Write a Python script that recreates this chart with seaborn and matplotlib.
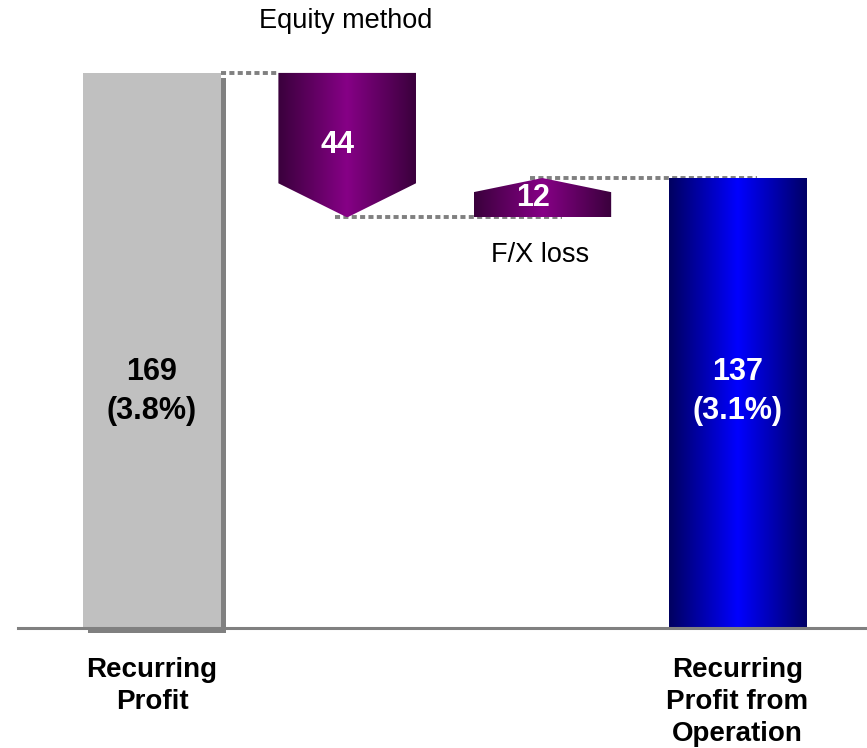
"""
Waterfall: Recurring Profit -> Recurring Profit from Operation
"""

import numpy as np
import pandas as pd
import matplotlib
matplotlib.use("Agg")
import matplotlib.pyplot as plt
import matplotlib.patheffects as pe
from matplotlib.colors import LinearSegmentedColormap
from matplotlib.patches import Polygon
import seaborn as sns

# -----------------------------
# Data
# -----------------------------
steps = ["Recurring Profit", "Equity method", "F/X loss", "Recurring Profit from Operation"]
values = [169, -44, 12, 137]
kinds = ["total", "delta", "delta", "total"]
value_labels = ["169\n(3.8%)", "44", "12", "137\n(3.1%)"]
tick_labels = ["Recurring\nProfit", "", "", "Recurring\nProfit from\nOperation"]
step_captions = ["", "Equity method", "F/X loss", ""]

# -----------------------------
# Styling
# -----------------------------
BAR_W = 0.705
GREY = "#c0c0c0"
SHADOW = "#808080"
LINE = "#808080"
blue_cmap = LinearSegmentedColormap.from_list("blu", ["#000060", "#0000ff", "#000066"])
purple_cmap = LinearSegmentedColormap.from_list("pur", ["#3a003c", "#860086", "#3a003c"])
tip_heights = [0, 10.4, 4.3, 0]          # arrow tip size, data units
connector_offsets = [(BAR_W / 2, -BAR_W / 2), (-0.065, 0.10), (-0.065, 0.10)]

sns.set_theme(style="white")
plt.rcParams["font.family"] = ["Liberation Sans", "DejaVu Sans"]


def gradient_fill(ax, patch, x0, x1, y0, y1, cmap):
    grad = np.linspace(0, 1, 256).reshape(1, -1)
    im = ax.imshow(grad, cmap=cmap, extent=[x0, x1, y0, y1], aspect="auto",
                   origin="lower", interpolation="bicubic", zorder=2)
    im.set_clip_path(patch)
    return im


# -----------------------------
# Build table
# -----------------------------
levels = []
run = 0
for v, k in zip(values, kinds):
    if k == "total":
        run = v
        levels.append((0, v))
    else:
        levels.append((run, run + v))
        run += v

df = pd.DataFrame({
    "step": steps,
    "bar_height": [v if k == "total" else 0 for v, k in zip(values, kinds)],
})

fig = plt.figure(figsize=(8.67, 7.48), dpi=100)
ax = fig.add_axes([18 / 867, 120 / 748, 847 / 867, 628 / 748])

sns.barplot(data=df, x="step", y="bar_height", order=steps, width=BAR_W,
            color=GREY, saturation=1, ax=ax)

bars = ax.patches[:len(steps)]

# first total: flat grey with drop shadow
bars[0].set_facecolor(GREY)
bars[0].set_edgecolor("none")
bars[0].set_clip_on(False)
bars[0].set_path_effects([
    pe.SimplePatchShadow(offset=(3.6, -3.6), shadow_rgbFace=SHADOW, alpha=1.0),
    pe.Normal(),
])

# last total: blue gradient
last = bars[-1]
last.set_facecolor("none")
last.set_edgecolor("none")
gradient_fill(ax, last, last.get_x(), last.get_x() + last.get_width(),
              0, last.get_height(), blue_cmap)

# deltas: arrow-shaped pentagons
for i, (k, (a, b)) in enumerate(zip(kinds, levels)):
    if k != "delta":
        continue
    x0, x1 = i - BAR_W / 2, i + BAR_W / 2
    lo, hi = min(a, b), max(a, b)
    t = tip_heights[i]
    if b < a:   # pointing down
        pts = [(x0, hi), (x1, hi), (x1, lo + t), (i, lo), (x0, lo + t)]
    else:       # pointing up
        pts = [(x0, lo), (x1, lo), (x1, hi - t), (i, hi), (x0, hi - t)]
    poly = Polygon(pts, closed=True, facecolor="none", edgecolor="none", zorder=2)
    ax.add_patch(poly)
    gradient_fill(ax, poly, x0, x1, lo, hi, purple_cmap)

    # caption
    if b < a:
        ax.text(i - 0.01, hi + 13.7, step_captions[i], ha="center", va="baseline",
                fontsize=19.5, color="black")
    else:
        ax.text(i - 0.01, lo - 13.7, step_captions[i], ha="center", va="baseline",
                fontsize=19.5, color="black")

    ax.text(i - 0.05, (lo + hi) / 2, value_labels[i], ha="center", va="center",
            fontsize=22, fontweight="bold", color="white", zorder=5)

# dashed connectors
for i, (s_off, e_off) in enumerate(connector_offsets):
    y = levels[i][1]
    ax.plot([i + s_off, i + 1 + e_off], [y, y], color=LINE, lw=2.8,
            ls=(0, (1.3, 0.85)), zorder=1.5, solid_capstyle="butt")

# totals labels
ax.text(0, 72, value_labels[0], ha="center", va="center", fontsize=22,
        fontweight="bold", color="black", linespacing=1.4, zorder=5)
ax.text(3, 72, value_labels[3], ha="center", va="center", fontsize=22,
        fontweight="bold", color="white", linespacing=1.4, zorder=5)

# axes cosmetics
ax.set_xlim(-0.6866, 3.653)
ax.set_ylim(0, 191.2)
ax.set_yticks([])
ax.set_xlabel("")
ax.set_ylabel("")
ax.set_xticks(range(len(steps)))
ax.set_xticklabels(tick_labels, fontsize=20, fontweight="bold", linespacing=1.3,
                   color="black")
ax.tick_params(axis="x", length=0, pad=21)
for side in ["left", "top", "right"]:
    ax.spines[side].set_visible(False)
ax.spines["bottom"].set_color(LINE)
ax.spines["bottom"].set_linewidth(2.2)
ax.set_facecolor("none")

fig.savefig("out.png", dpi=100)
